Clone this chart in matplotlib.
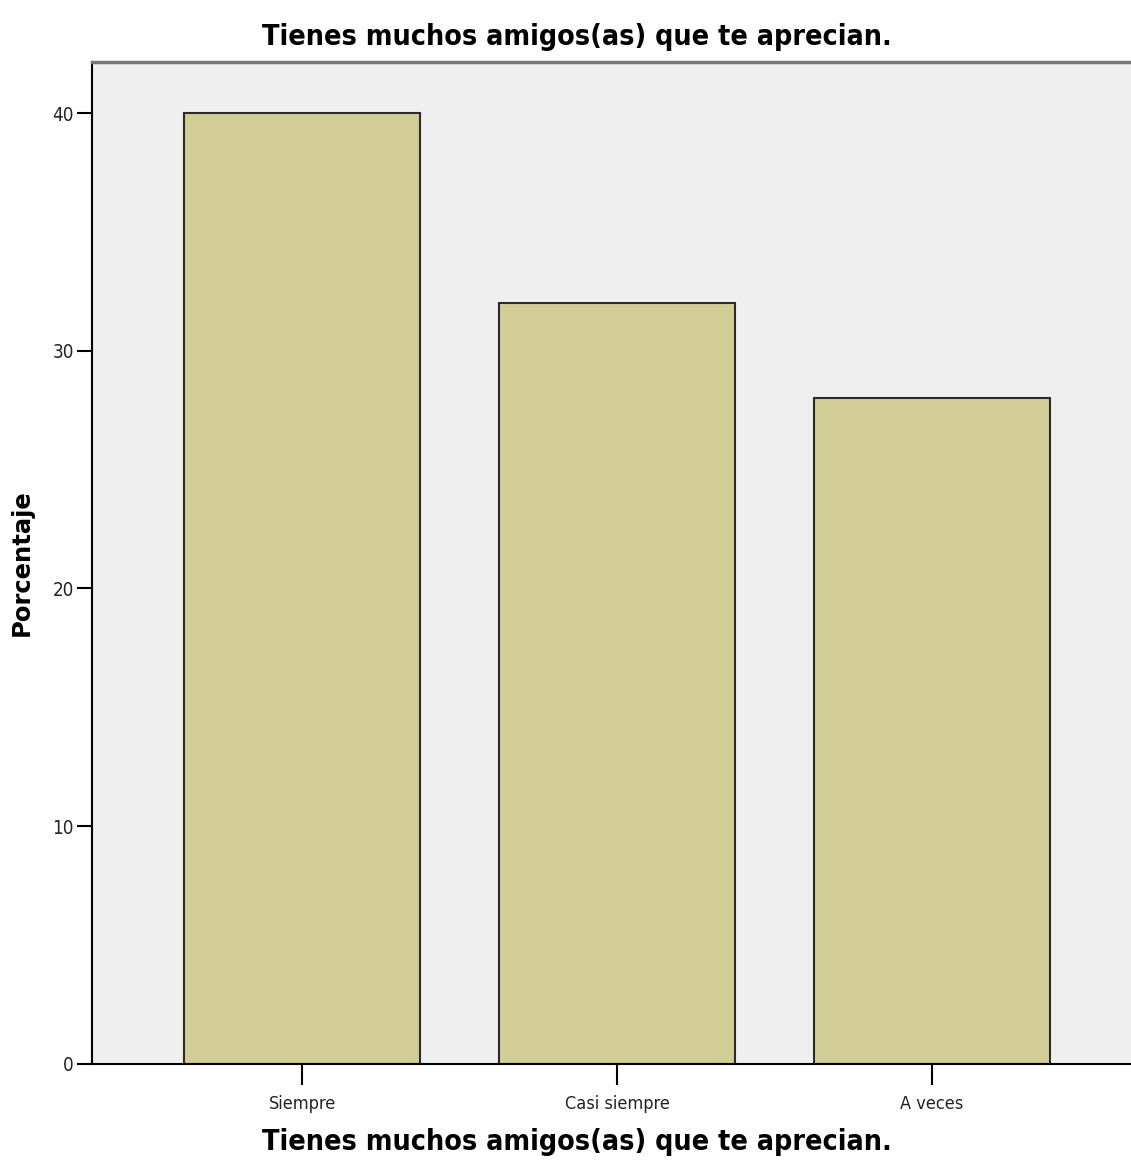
import matplotlib
matplotlib.use("Agg")
import matplotlib.pyplot as plt

# data
categories = ["Siempre", "Casi siempre", "A veces"]
percentages = [40, 32, 28]
y_ticks = [0, 10, 20, 30, 40]

title = "Tienes muchos amigos(as) que te aprecian."

narrow = dict(family="DejaVu Sans", stretch="condensed")

fig = plt.figure(figsize=(11.31, 11.75), dpi=100)
ax = fig.add_axes([0.0813, 0.0945, 0.9187, 0.8528])
ax.set_facecolor("#efefef")

x = range(len(categories))
ax.bar(x, percentages, width=0.749, color="#d3ce97", edgecolor="#2b2b2b", linewidth=1.5, zorder=2)

ax.set_xlim(-0.667, 2.632)
ax.set_ylim(0, 42.15)
ax.set_xticks(list(x))
ax.set_xticklabels(categories, fontsize=13, color="#222222", **narrow)
ax.set_yticks(y_ticks)
ax.set_yticklabels([str(v) for v in y_ticks], fontsize=13.5, color="#222222", **narrow)
ax.tick_params(axis="x", length=15, width=1.5, pad=7)
ax.tick_params(axis="y", length=11, width=1.5, pad=2)

ax.spines["right"].set_visible(False)
ax.spines["left"].set_linewidth(1.5)
ax.spines["bottom"].set_linewidth(1.5)
ax.spines["top"].set_linewidth(2.5)
ax.spines["top"].set_color("#777777")

# title sits a bit left of the axes centre, as in the source
ax.set_title(title, fontsize=20.5, fontweight="bold", pad=12, x=0.467, **narrow)
ax.set_xlabel(title, fontsize=20.5, fontweight="bold", **narrow)
ax.xaxis.set_label_coords(0.467, -0.064)
ax.set_ylabel("Porcentaje", family="DejaVu Sans", fontsize=17.5,
              fontweight="bold", va="center")
ax.yaxis.set_label_coords(-0.068, 0.5)

fig.savefig("out.png", dpi=100)
